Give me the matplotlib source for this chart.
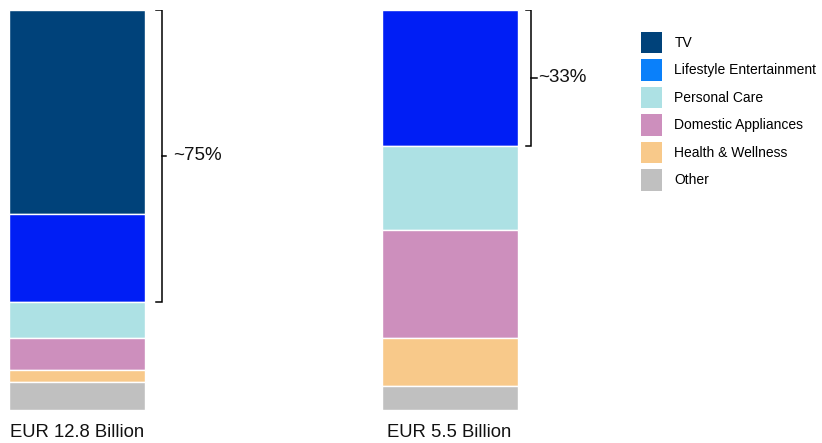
import matplotlib
matplotlib.use("Agg")
import matplotlib.pyplot as plt
from matplotlib.patches import Patch
import numpy as np

plt.rcParams['font.family'] = ['Liberation Sans', 'DejaVu Sans']

categories = ["TV", "Lifestyle Entertainment", "Personal Care",
              "Domestic Appliances", "Health & Wellness", "Other"]
bar_labels = ["EUR 12.8 Billion", "EUR 5.5 Billion"]
values_bar1 = [51, 22, 9, 8, 3, 7]
values_bar2 = [0, 34, 21, 27, 12, 6]
bracket_labels = ["~75%", "~33%"]
bracket_spans = [73, 34]  # percent from top covered by bracket

bar_colors = ["#00427a", "#001ef5", "#ade1e4", "#cd8fbd", "#f8c98a", "#c0c0c0"]
legend_colors = ["#00427a", "#0a80fa", "#ade1e4", "#cd8fbd", "#f8c98a", "#c0c0c0"]

W, H = 822, 443
fig = plt.figure(figsize=(W / 100, H / 100), dpi=100)

# axes: bars occupy pixels y 10..410
px_left_center = 77.0
px_step = 372.5
ax = fig.add_axes([0, (H - 410) / H, 1, 400 / H])
ax.set_xlim(-px_left_center / px_step, (W - px_left_center) / px_step)
ax.set_ylim(100, 0)
ax.axis("off")

bar_w = 136 / px_step
xs = np.arange(2)
data = np.array([values_bar1, values_bar2])
tops = np.zeros(2)
for i, cat in enumerate(categories):
    vals = data[:, i]
    ax.bar(xs, vals, width=bar_w, bottom=tops, color=bar_colors[i],
           edgecolor="white", linewidth=1.0, align="center")
    tops += vals

# brackets
px = 1 / px_step
bracket_specs = [
    dict(vx=161.5 - 77, tick=6, dash=4, tx=173 - 77),
    dict(vx=531 - 449.5, tick=5, dash=6, tx=538 - 449.5),
]
for j, spec in enumerate(bracket_specs):
    x0 = xs[j]
    vx = x0 + spec["vx"] * px
    span = bracket_spans[j]
    ax.plot([vx - spec["tick"] * px, vx, vx, vx - spec["tick"] * px],
            [0, 0, span, span], color="black", lw=1.1, solid_joinstyle="miter")
    ax.plot([vx, vx + spec["dash"] * px], [span / 2, span / 2], color="black", lw=1.1)
    ax.text(x0 + spec["tx"] * px, span / 2, bracket_labels[j], fontsize=13.5,
            va="center", ha="left", color="#111111")

# bar labels
for j, lab in enumerate(bar_labels):
    ax.text(xs[j], 105.6, lab, fontsize=13.3, ha="center", va="center",
            color="#111111", clip_on=False)

# legend
handles = [Patch(facecolor=c, edgecolor="none") for c in legend_colors]
leg = fig.legend(handles, categories, loc="upper left",
                 bbox_to_anchor=(628 / W, 1 - 19 / H), frameon=False,
                 fontsize=10, handlelength=1.58, handleheight=2.0,
                 labelspacing=0.44, handletextpad=0.86)

fig.savefig("out.png", dpi=100)
